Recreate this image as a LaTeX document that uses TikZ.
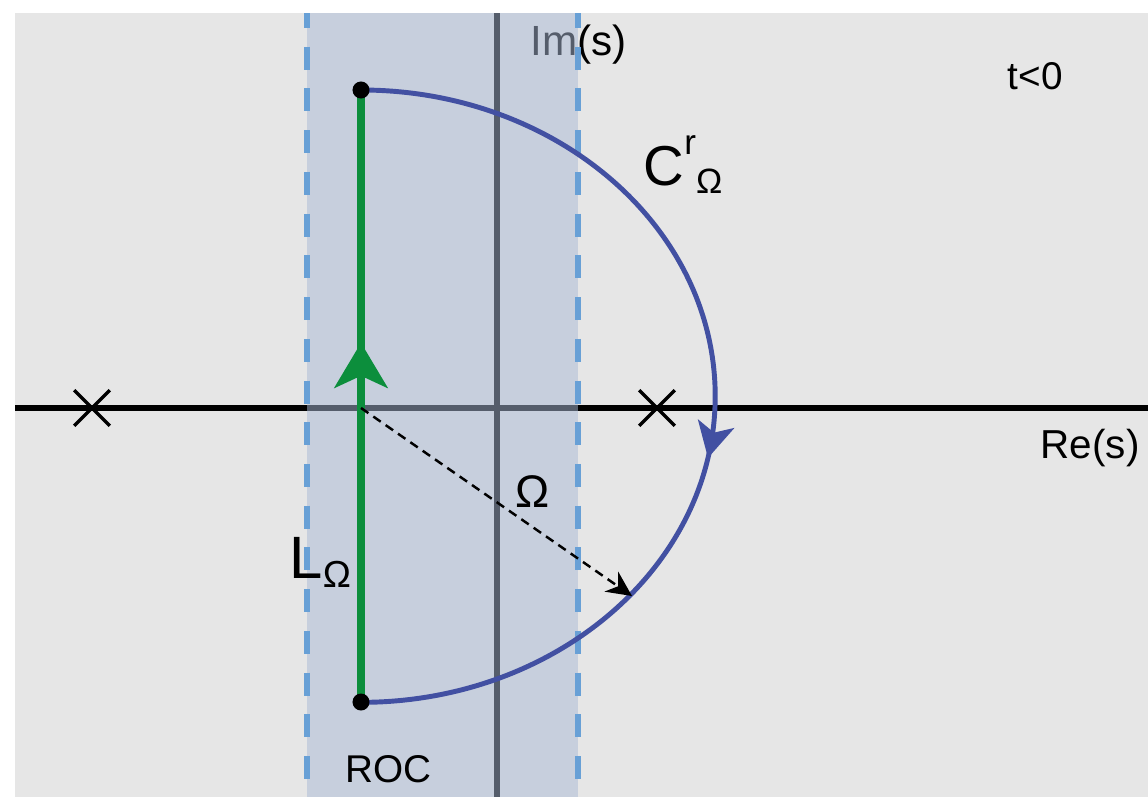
\documentclass[tikz,border=0pt]{standalone}
\usepackage{fontspec}
\setmainfont{Liberation Sans}
\usetikzlibrary{arrows.meta, shapes.misc, decorations.markings}
\definecolor{PlaneGray}{RGB}{230,230,230}
\definecolor{RocBlue}{RGB}{170,186,214}
\definecolor{EdgeBlue}{RGB}{104,160,214}
\definecolor{ContourBlue}{RGB}{66,80,162}
\definecolor{LineGreen}{RGB}{12,142,60}

\begin{document}
\begin{tikzpicture}[x=0.01cm, y=-0.01cm,
	lbl/.style={anchor=base west, inner sep=0pt},
	pole/.style={draw, cross out, line width=1pt, minimum size=3.2mm, inner sep=0pt},
	dot/.style={circle, fill=black, minimum size=1.7mm, inner sep=0pt},
	rocedge/.style={EdgeBlue, line width=1.7pt, dash pattern=on 2.3mm off 1.87mm, dash phase=0.8mm}]
	\useasboundingbox (0,0) rectangle (1148,797);
	\fill[PlaneGray] (15,13) rectangle (1148,797);
	% axes
	\coordinate (reL) at (15,408);
	\coordinate (reR) at (1148,408);
	\coordinate (imT) at (497,13);
	\coordinate (imB) at (497,797);
	\draw[line width=1.6pt] (reL) -- (reR);
	\draw[line width=1.7pt] (imT) -- (imB);
	\node[lbl, font=\fontsize{12}{12}\selectfont] (imlab) at (530,55) {Im(s)};
	% region of convergence
	\fill[RocBlue, opacity=0.5] (307,13) rectangle (578,797);
	\draw[rocedge] (307,13) -- (307,797);
	\draw[rocedge] (578,13) -- (578,797);
	% contour
	\coordinate (top) at (361,90);
	\coordinate (bot) at (361,702);
	\coordinate (o) at (361,408);
	\coordinate (rim) at (632,596);
	\draw[LineGreen, line width=2.3pt, postaction={decorate, decoration={markings,
		mark=at position 0.587 with {\arrow{Stealth[length=4.5mm, width=5.3mm, inset=1.2mm]}}}}]
		(bot) -- (top);
	\draw[ContourBlue, line width=1.4pt, postaction={decorate, decoration={markings,
		mark=at position 0.56 with {\arrow{Stealth[length=3.5mm, width=3.7mm, inset=0.9mm]}}}}]
		(top) arc[start angle=90, end angle=-90, x radius=3.54cm, y radius=3.06cm];
	\node[dot] (topdot) at (top) {};
	\node[dot] (botdot) at (bot) {};
	\draw[line width=0.7pt, dash pattern=on 0.9mm off 0.6mm,
		-{Stealth[length=2.5mm, width=2.4mm, inset=0.8mm]}] (o) -- (rim);
	% poles
	\node[pole] (p1) at (92,408) {};
	\node[pole] (p2) at (657,408) {};
	% labels
	\node[lbl, font=\fontsize{11}{11}\selectfont] (tlab) at (1007,89) {t<0};
	\node[lbl, font=\fontsize{11.5}{11.5}\selectfont] (relab) at (1040,458) {Re(s)};
	\node[lbl, font=\fontsize{11}{11}\selectfont] (roclab) at (345,782) {ROC};
	\node[font=\fontsize{13}{13}\selectfont] (omlab) at (533,492) {Ω};
	\node[lbl, font=\fontsize{16}{16}\selectfont] (clab) at (643,185)
		{C\raisebox{0.3cm}{\fontsize{10}{10}\selectfont r}\raisebox{-0.08cm}{\fontsize{10}{10}\selectfont Ω}};
	\node[lbl, font=\fontsize{17}{17}\selectfont] (llab) at (289,578)
		{L\raisebox{-0.09cm}{\fontsize{10.7}{10.7}\selectfont Ω}};
\end{tikzpicture}
\end{document}
